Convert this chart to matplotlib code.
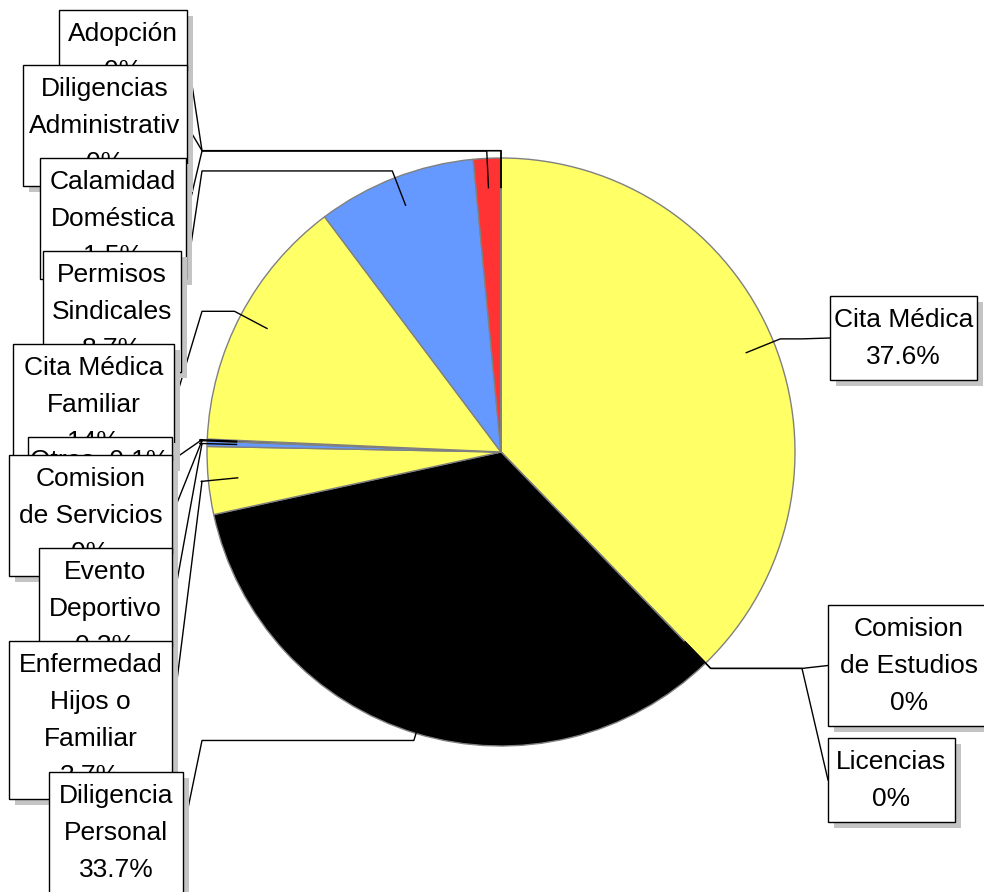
import numpy as np
import matplotlib
matplotlib.use("Agg")
import matplotlib.pyplot as plt
from matplotlib.patches import Rectangle

# --- Data (clockwise from 12 o'clock) ---
categories = ["Cita Médica", "Comision\nde Estudios", "Licencias",
              "Diligencia\nPersonal", "Enfermedad\nHijos o\nFamiliar",
              "Evento\nDeportivo", "Comision\nde Servicios", "Otros",
              "Cita Médica\nFamiliar", "Permisos\nSindicales",
              "Calamidad\nDoméstica", "Diligencias\nAdministrativ", "Adopción"]
values = [37.6, 0, 0, 33.7, 3.7, 0.3, 0, 0.1, 14, 8.7, 1.5, 0, 0]
colors = ["#FFFF66", "#6699FF", "#FF3333", "#000000"]

# --- Layout of label boxes in pixels: (left, top, width) ---
box_pos = [(830, 296, 147), (828, 605, 162), (828, 738, 127),
           (49, 772, 134), (9, 641, 163), (39, 548, 133), (9, 455, 163),
           (28, 437, 144), (13, 344, 161), (43, 251, 138), (40, 158, 146),
           (23, 65, 164), (59, 10, 128)]

W, H = 984, 892
CX, CY, R = 501, 452, 294
LINE_H = 37


def py(y):
    return H - y


fig = plt.figure(figsize=(W / 100, H / 100), dpi=100)
ax = fig.add_axes([0, 0, 1, 1])

wedges, _ = ax.pie(values, colors=[colors[i % 4] for i in range(len(values))],
                   startangle=90, counterclock=False, center=(CX, py(CY)),
                   radius=R, wedgeprops=dict(edgecolor="#808080", linewidth=1))

for i, (w, name, val) in enumerate(zip(wedges, categories, values)):
    left, top, bw = box_pos[i]
    lines = name.split("\n")
    if name == "Otros":
        lines = [f"Otros  {val:g}%"]
    else:
        lines.append(f"{val:g}%")
    bh = LINE_H * len(lines) + 10

    # leader line: inside slice -> just outside -> horizontal -> box edge
    ang = np.deg2rad((w.theta1 + w.theta2) / 2)
    x0, y0 = CX + 0.9 * R * np.cos(ang), py(CY) + 0.9 * R * np.sin(ang)
    x1, y1 = CX + 1.025 * R * np.cos(ang), py(CY) + 1.025 * R * np.sin(ang)
    right_side = left > CX
    x2 = 802 if right_side else 202
    xb = left if right_side else left + bw
    yb = py(top + bh / 2)
    ax.plot([x0, x1, x2, xb], [y0, y1, y1, yb], color="black", lw=1, zorder=3)

    z = 10 + top / 10
    ax.add_patch(Rectangle((left + 6, py(top + bh + 6)), bw, bh,
                           facecolor="#C4C4C4", edgecolor="none", zorder=z))
    ax.add_patch(Rectangle((left, py(top + bh)), bw, bh,
                           facecolor="white", edgecolor="black", lw=1, zorder=z + 0.01))
    for j, t in enumerate(lines):
        ax.text(left + bw / 2, py(top + 24 + LINE_H * j), t, ha="center",
                va="center", fontsize=19, family="Liberation Sans",
                zorder=z + 0.02)

ax.set_xlim(0, W)
ax.set_ylim(0, H)
ax.set_aspect("equal")
ax.axis("off")
fig.savefig("out.png", dpi=100, facecolor="white")
